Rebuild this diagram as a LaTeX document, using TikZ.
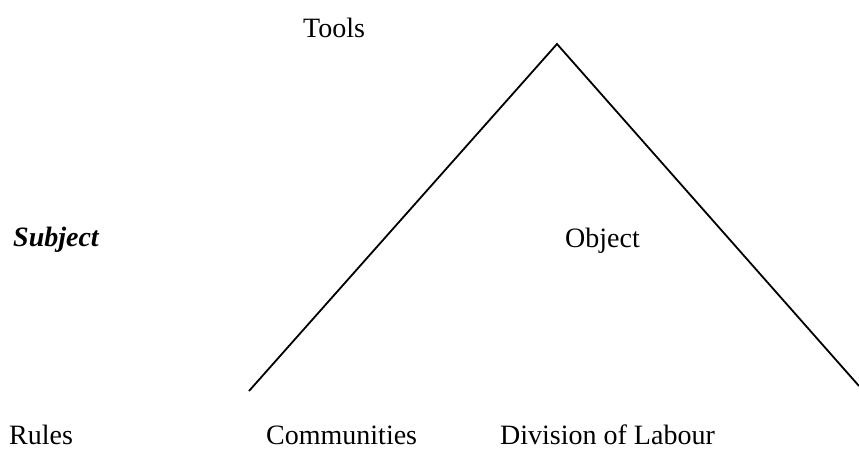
\documentclass[tikz,border=0pt]{standalone}
\usepackage{fontspec}
\setmainfont{Liberation Serif}
\usetikzlibrary{calc}

\begin{document}
\begin{tikzpicture}[x=1pt,y=-1pt,
  lbl/.style={anchor=base west, inner sep=0pt, font=\fontsize{28}{32}\selectfont},
  side/.style={line width=1.8pt}]
\useasboundingbox (0,0) rectangle (859,450);
% triangle
\coordinate (apex) at (557,44);
\coordinate (leftend) at (249,391);
\coordinate (rightend) at (859,386);
\draw[side] (leftend) -- (apex) -- (rightend);
% labels
\node[lbl] (tools) at (303,37) {Tools};
\node[lbl] (subject) at (13,246) {\textbf{\textit{Subject}}};
\node[lbl] (object) at (565,247) {Object};
\node[lbl] (rules) at (9,444) {Rules};
\node[lbl] (community) at (266,444) {Communities};
\node[lbl] (labour) at (500,444) {Division of Labour};
\end{tikzpicture}
\end{document}
